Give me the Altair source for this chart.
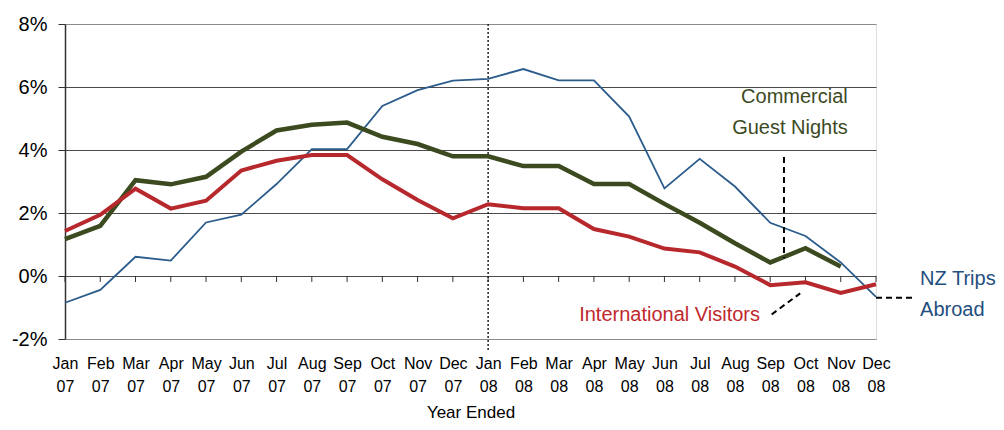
import altair as alt
import pandas as pd

months = ["Jan", "Feb", "Mar", "Apr", "May", "Jun", "Jul", "Aug", "Sep", "Oct", "Nov", "Dec"] * 2
years = ["07"] * 12 + ["08"] * 12

nz_trips = [-0.85, -0.44, 0.61, 0.49, 1.70, 1.95, 2.92, 4.03, 4.03, 5.40, 5.90, 6.20,
            6.26, 6.57, 6.21, 6.21, 5.06, 2.78, 3.72, 2.84, 1.69, 1.27, 0.43, -0.66]
guest_nights = [1.17, 1.59, 3.04, 2.91, 3.15, 3.95, 4.62, 4.80, 4.87, 4.42, 4.19, 3.80,
                3.80, 3.49, 3.49, 2.92, 2.92, 2.29, 1.69, 1.04, 0.43, 0.88, 0.30, None]
intl_visitors = [1.43, 1.94, 2.77, 2.14, 2.39, 3.35, 3.66, 3.84, 3.84, 3.07, 2.41, 1.83,
                 2.28, 2.15, 2.15, 1.49, 1.25, 0.87, 0.75, 0.30, -0.29, -0.20, -0.54, -0.26]

series_names = ["NZ Trips Abroad", "Commercial Guest Nights", "International Visitors"]
series_colors = ["#2B5C8C", "#3C4A1F", "#B7282D"]
series_widths = [1.8, 4.5, 4]

y_ticks = [-2, 0, 2, 4, 6, 8]

# annotation labels (data coordinates)
ann_right_text = ["Commercial", "Guest Nights", "International Visitors"]
ann_right_x = [22.2, 22.2, 19.71]
ann_right_y = [5.67, 4.70, -1.24]
ann_right_color = ["#3C4A1F", "#3C4A1F", "#C0282D"]

ann_left_text = ["NZ Trips", "Abroad"]
ann_left_x = [24.25, 24.25]
ann_left_y = [-0.11, -1.08]
ann_left_color = ["#1F4E80", "#1F4E80"]

lead_x = [20.39, 20.04, 23.0]
lead_x2 = [20.39, 20.85, 24.08]
lead_y = [3.78, -1.22, -0.69]
lead_y2 = [0.57, -0.55, -0.69]

FONT = "Liberation Sans"

idx = list(range(len(months)))
rows = []
for name, vals in zip(series_names, [nz_trips, guest_nights, intl_visitors]):
    for i, v in zip(idx, vals):
        if v is not None:
            rows.append({"i": i, "series": name, "value": v})
df = pd.DataFrame(rows)

label_arr = "[" + ",".join(f"['{m}','{y}']" for m, y in zip(months, years)) + "]"

x_scale = alt.Scale(domain=[0, 23], nice=False, zero=False)
y_scale = alt.Scale(domain=[-2, 8], nice=False)

x_axis = alt.Axis(values=idx, labelExpr=label_arr + "[datum.value]", ticks=False, domain=False,
                  grid=False, labelFontSize=16, labelLineHeight=23, labelPadding=16,
                  labelColor="#000", title="Year Ended", titleFontSize=17,
                  titleFontWeight="normal", titleColor="#000", titlePadding=10,
                  labelAngle=0, labelFlush=False, labelOverlap=False, labelSeparation=0)
y_axis = alt.Axis(values=y_ticks, labelExpr="datum.value + '%'", labelFontSize=20,
                  labelColor="#000", tickSize=7, tickColor="#333", domainColor="#333",
                  domainWidth=1.5, labelPadding=11, title=None,
                  gridColor=alt.condition("datum.value == 8 || datum.value == -2",
                                          alt.value("#8A8A8A"), alt.value("#4A4A4A")),
                  gridWidth=1.2)

base = alt.Chart(df)

layers = []
grid_layer = base.mark_line(opacity=0).encode(
    x=alt.X("i:Q", scale=x_scale, axis=x_axis),
    y=alt.Y("value:Q", scale=y_scale, axis=y_axis),
)
layers.append(grid_layer)

ticks_df = pd.DataFrame({"i": idx})
ticks = alt.Chart(ticks_df).mark_rule(color="#333", strokeWidth=1).encode(
    x=alt.X("i:Q", scale=x_scale, axis=x_axis), y=alt.datum(0), y2=alt.datum(-0.19)
)
layers.append(ticks)

jan08 = alt.Chart(pd.DataFrame({"i": [12]})).mark_rule(
    color="#222", strokeWidth=1.5, strokeDash=[2, 2]
).encode(x=alt.X("i:Q", scale=x_scale, axis=x_axis), y=alt.datum(8), y2=alt.datum(-2.35))
layers.append(jan08)

for name, col, w in zip(series_names, series_colors, series_widths):
    layers.append(
        base.transform_filter(alt.datum.series == name).mark_line(
            color=col, strokeWidth=w, strokeJoin="miter"
        ).encode(x=alt.X("i:Q", scale=x_scale, axis=x_axis),
                 y=alt.Y("value:Q", scale=y_scale, axis=y_axis))
    )

lead_df = pd.DataFrame({"x": lead_x, "x2": lead_x2, "y": lead_y, "y2": lead_y2})
leaders = alt.Chart(lead_df).mark_rule(color="#000", strokeWidth=2, strokeDash=[6, 4]).encode(
    x=alt.X("x:Q", scale=x_scale, axis=x_axis), x2="x2:Q",
    y=alt.Y("y:Q", scale=y_scale, axis=y_axis), y2="y2:Q"
)
layers.append(leaders)

rdf = pd.DataFrame({"t": ann_right_text, "x": ann_right_x, "y": ann_right_y, "c": ann_right_color})
ldf = pd.DataFrame({"t": ann_left_text, "x": ann_left_x, "y": ann_left_y, "c": ann_left_color})
layers.append(
    alt.Chart(rdf).mark_text(align="right", baseline="middle", fontSize=20, font=FONT).encode(
        x=alt.X("x:Q", scale=x_scale, axis=x_axis), y=alt.Y("y:Q", scale=y_scale, axis=y_axis),
        text="t:N", color=alt.Color("c:N", scale=None)
    )
)
layers.append(
    alt.Chart(ldf).mark_text(align="left", baseline="middle", fontSize=20, font=FONT).encode(
        x=alt.X("x:Q", scale=x_scale, axis=x_axis), y=alt.Y("y:Q", scale=y_scale, axis=y_axis),
        text="t:N", color=alt.Color("c:N", scale=None)
    )
)

chart = alt.layer(*layers).properties(
    width=811, height=315,
    autosize=alt.AutoSizeParams(type="none"),
    padding={"left": 57, "top": 16, "right": 120, "bottom": 83},
    background="#FFFFFF",
).configure_view(
    fill="#EFEDEE", stroke="#8A8A8A", strokeWidth=2
).configure(font=FONT).configure_axis(
    labelFont=FONT, titleFont=FONT
).configure_axisX(labelOverlap=False, labelSeparation=0)

chart.save("out.html", embed_options={"renderer": "svg", "actions": False})
